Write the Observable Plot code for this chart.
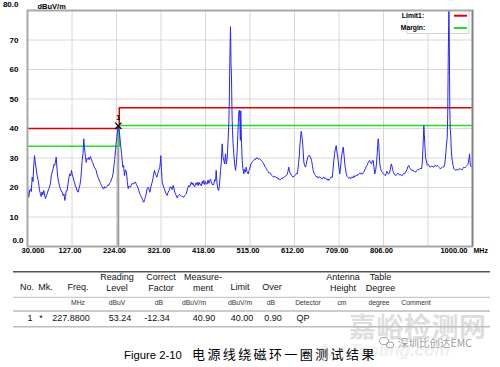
<!DOCTYPE html>
<html><head><meta charset="utf-8">
<script src="https://cdn.jsdelivr.net/npm/d3@7"></script>
<script src="https://cdn.jsdelivr.net/npm/@observablehq/plot@0.6"></script>
<style>
body{margin:0;background:#fff;width:500px;height:367px;overflow:hidden;position:relative;font-family:"Liberation Sans",Arial,sans-serif}
#chart{position:absolute;left:0;top:0}
#table{position:absolute;left:0;top:0}
</style></head><body>
<div id="table"></div><div id="chart"></div>
<script>
const freqs = [30,31,32.8,34.5,36.5,38.3,40.2,42,43.5,45.3,47,49,51,53.3,55,56.2,58,59.9,61.5,63.5,65.5,67.3,69.2,71,72.9,75.5,78,80,82,83.8,86,87.5,89.5,91,92.6,94.2,96,98,100.4,102.5,104,105.6,107.5,109.5,111.3,113,114.5,116.5,118.5,120.5,122.2,124,125.9,127.5,129.3,130.9,133,134.5,136.2,138.3,140.5,142,144,146,147.8,149.2,151,152.7,154.2,156.4,158,159.5,161.4,163,164.5,167.3,169,171,173.2,175,177,179.7,181.5,183.5,185.4,187.5,189.5,191.3,193,194.8,196.3,198,199.6,201.5,203.5,205.2,207.2,209,211,213.1,215,216.6,218.1,220,221.8,223.5,225.5,227.88,230.2,232.7,235,237.7,239.5,241.4,243.5,245.8,247.5,249.5,251.5,254.5,256.5,258.5,261.7,263.5,265.4,267.5,270.4,272.5,274.5,276.3,278.5,280.5,283.5,285.5,287,288.7,290.5,293.1,294.8,296.6,298.5,300.5,301.8,303.5,305,306.8,308.7,310.5,312,314,316,318.4,319.6,320.6,322,323.6,325.5,327.1,329,330.8,332.5,334.5,336.5,338.9,341,343.2,345.2,347.6,349.4,351.1,353.5,356.3,358.5,360.5,363.5,366.5,368.5,370.7,372.5,374.5,376.6,378.5,381.6,383.5,386.8,389,390.5,392.5,394.5,396.5,398,399.9,402,404,405.5,407.1,409,411,412.5,414.3,416,418,419.8,421.7,423.5,425.5,427.2,428.9,430.5,432.3,434.2,436.1,438,440,441.3,442.5,444,445.5,447,448.8,450.7,452.5,454.4,456,457.9,459.6,461.6,463.5,465.3,466.9,468.8,470,471,471.8,472.5,473.2,473.6,474.7,475.5,476.2,478,479.7,481.5,483.4,485.2,487.1,488.5,490,491,492.1,493,494,494.9,495.7,496.5,498,499.5,501.5,503,505,506.7,508.5,510,511.1,513,514.5,516.1,519,521,523.3,525,527,529,530.7,533,535.5,537.9,540,541.5,543.5,545.1,547,549,550.5,552.5,554.5,556,558,559.7,561.5,563,565,566.9,568.5,570,572,574.3,576,578,580,581.5,583.5,585,587,588.7,590.5,592.5,594.5,596.1,597.8,599.6,601,603.3,605,607,609.2,610.8,612.5,614.5,616,617.9,619.5,621,622.5,623.5,625,626.6,627.5,628.5,629.4,631,632.3,634,636,637.5,639,641,643,645.4,647.5,649.1,651,652.8,654.5,656,657.8,659.5,661.5,663,665,666.8,668.5,670.5,672.4,674,676,677.8,679.6,681.5,683.5,685,686.8,688.5,690,692,694.2,696,697.7,699.5,701,702.9,704.5,706.4,708,709.5,710.8,712.5,714.5,716.5,718.2,720,721.6,723.5,725,726.9,728.5,730,732,734.1,736,737.5,739.5,741.2,743,745,747,748.7,750.5,752,754,755.9,757.5,759.5,761.5,763.1,765,767,768.8,770.5,772,773.5,775.5,777.5,779.8,781.5,783.5,785,787,789,790.7,792.5,793.5,794.4,795.5,796.5,797.9,799.5,801.5,803.2,805,806.5,808.5,810.4,812,813.5,815,817.6,819.5,821,823,824.5,826,828,830,832.2,834,836,837.5,839.3,841,843,845,846.8,848.5,850,852,853.9,855.5,857,859,861.2,862.5,864,866,868.6,870.5,872,874,875.8,877.5,879,881,883,884.5,886,888.8,890.5,891.7,893,893.9,895,896,897.6,899.5,901.3,903,905,906.5,908.5,910.5,912,914,915.7,917.5,919,921,923.1,925,927,928.5,930.3,932,934,935.8,937.5,939.5,941.2,943,944.9,946,947.1,948,948.6,949.3,950,950.6,951.5,952.7,954,955.8,957.5,959.3,961,963,965,966.7,968.5,970,972,973.9,975.5,977.5,979.5,981.1,983,985,986.8,988.5,990,991,992.5,993.5,994.5,995.7,997,998,1000];
const levels = [20.1,18.5,16.7,18.8,19.5,18.6,23.5,22,27,30.8,28.5,26.3,24,22.4,20.5,19,18,16.9,18.5,17.5,19,17.5,16.2,17.2,17.9,19.2,20.1,21.5,24,25.2,26.5,27.8,27.5,29,30.3,26.5,23.5,21.8,20.1,19.2,18.8,18.4,17.3,17.8,15.6,17,19,19,21.5,23.5,24.6,24,25.8,24.3,23.5,22.4,21.5,20.2,20.1,18.8,18.4,19.5,20.7,22.5,26,29.2,31.5,36.5,33.5,30.3,28.5,29.8,29.7,30.2,29.4,30.5,29.6,28.8,28,27,26.6,25.8,24.5,23.5,22.9,22,21.3,20.7,20.2,19.6,19.5,20.3,19.8,20.1,20.4,20.9,20.7,21.5,21.8,22.9,23.5,24.8,26.9,29.5,32.5,35.5,38.2,40.9,39,34.8,31.5,26.9,27.5,24,26,25.2,22,19.6,20.5,20.1,20.8,21.5,21.2,21.8,21.8,21,20.1,19,18,17.3,16.8,16,15,16,16.7,17.8,19.5,20.1,19.5,18.4,19.8,21.2,21.8,23,24.5,25.8,24.5,24,23.5,24.8,25.8,26.9,28.5,30.8,26,21.8,20.8,20.1,19.2,18.4,17.8,17.3,18.4,19,20.2,20.1,19.3,20.7,19.6,18.4,17.5,16.5,17.2,17.6,17.3,17,16.9,16.7,17.3,17.6,17.9,19.5,20.7,20.2,21.8,21,21.6,20.7,20.2,21.4,21,21.8,20.6,21.8,21.1,21.2,20.5,22.1,21.3,22.4,21,22,21.2,21.2,22.5,21.4,22.4,22.9,22,21.2,20.8,21.2,22.6,22.3,25.8,22.5,20.5,19.2,19,21.5,25.8,28.5,34.8,30.5,29.2,28,31.4,28,30,35,41.6,50,63,70,74.5,68,62,57.4,48,42.7,35,31.4,28,25.8,28,32.5,38,44,46.1,46.1,42,36,46,40,35,29.2,26.5,24.6,26.2,25.2,26.9,25.3,24.9,24.6,25.8,26.3,27.6,28.5,28.9,29.2,29.6,29.5,30.1,30,29.6,29.8,29.4,29.2,28.8,28.4,28,27.3,26.8,26.4,25.8,25.4,24.9,25,24.8,24.2,24,23.7,23.5,23.9,23.6,23.4,23.3,22.8,23,22.7,22.6,23.1,22.9,23.4,23.3,23.7,23.8,24.2,24.4,25.5,26.9,25.5,24.6,24.2,23.8,23.5,23.9,24,24.3,24.8,24.6,26,28.5,31,33.7,36.5,39,38,37,35.9,32,28.6,27.5,26.9,27.8,29,30.3,30.8,30.8,30,29.2,27.5,25.8,25,24.5,24,23.6,23.8,23.2,23.3,23.7,23.5,23,22.9,23.4,23.5,23,23.3,22.8,22.5,22.9,22.4,22.8,23,23.6,23.3,26,29.2,31.5,33,34.2,32,30.3,28,26,24.6,27,30.3,32.5,33.7,31,28,26,24.5,23.7,23.4,23.2,23.5,22.9,23.4,23.6,23.2,24,23.6,23.8,24.3,24,24.5,24.4,24.8,24.6,25,24.5,24.9,25.2,25.9,26.5,27.3,27.5,28.2,28.8,29.2,28.5,28,29,29.2,27,24.6,26,28,32,34.5,36.5,35,32,28,26.5,25.5,25.2,24.8,24.5,24.3,24,24.8,25.5,24.8,24.6,25.2,26.3,28,27.2,26,25,24.5,24,24.2,24.5,24.9,24.6,24.2,24.4,24,24,24.5,24.8,24.6,25.2,25.6,26,27,27.5,26.8,26.5,26,25.8,25.9,25.5,25.4,25.2,25.6,25.8,26.2,26,26.2,26.5,26.3,28,32.5,37,41,38,34.8,30.3,29,27.5,27.8,27.5,27,26.9,27.3,27.2,27,26.9,27.4,27.5,27.1,27.5,27.2,26.8,26.6,26.3,26.7,26.8,27.1,26.9,28,30.3,34,37,45,63,75,82,72,58,46,40,37,32,29.2,27.5,26.3,26.2,25.8,26.1,25.8,26.2,26,26.4,26.3,26.1,26,26.5,26.9,26.6,27,27.2,27.5,27.8,28.5,30,31.4,29,27.5,27,27.2,26.9];

const limitFreqs = [30, 230, 1000];
const limitLevels = [40, 47, 47];
const marginLevels = [34, 41, 41];
const markerFreq = 227.88, markerLevel = 40.9, markerLabel = "1";

const xGrid = [30,127,224,321,418,515,612,709,806,903,1000];
const yGrid = [10,20,30,40,50,60,70];
const xTicks = [30,127,224,321,418,515,612,709,806,1000];
const xTickLabels = ["30.000","127.00","224.00","321.00","418.00","515.00","612.00","709.00","806.00","1000.00"];
const yTicks = [80,70,60,50,40,30,20,10,0];
const yTickLabels = ["80.0","70","60","50","40","30","20","10","0.0"];
const yUnit = "dBuV/m", xUnit = "MHz";
const legendNames = ["Limit1:", "Margin:"];
const legendColors = ["#e00000", "#1ee01e"];

const headerLines = [["No."],["Mk."],["Freq."],["Reading","Level"],["Correct","Factor"],["Measure-","ment"],["Limit"],["Over"],[],["Antenna","Height"],["Table","Degree"],[]];
const unitTexts = ["","","MHz","dBuV","dB","dBuV/m","dBuV/m","dB","Detector","cm","degree","Comment"];
const rowTexts = ["1","*","227.8800","53.24","-12.34","40.90","40.00","0.90","QP","","",""];
const captionLatin = "Figure 2-10";
const captionCJK = "电源线绕磁环一圈测试结果";
const watermarkBig = "嘉峪检测网", watermarkSmall = "深圳比创达EMC", watermarkUrl = "AnyTesting.com";

const FF = "'Liberation Sans', Arial, sans-serif";
const data = freqs.map((f, i) => ({f, v: levels[i]}));
const limit = limitFreqs.map((f, i) => ({f, v: limitLevels[i]}));
const margin = limitFreqs.map((f, i) => ({f, v: marginLevels[i]}));
const marker = [{f: markerFreq, v: markerLevel, n: markerLabel}];
const n = yTicks.length;
const TRACE = "#2525ff";

const chart = Plot.plot({
  width: 500, height: 262,
  marginTop: 10, marginRight: 28, marginBottom: 16, marginLeft: 27,
  x: {domain: [30, 1000], axis: null},
  y: {domain: [0, 80], axis: null, clamp: true},
  style: {fontFamily: FF, background: "transparent", color: "#000", overflow: "visible"},
  marks: [
    Plot.ruleX(xGrid, {x: d => d, stroke: "#d8d8d8", strokeWidth: 1}),
    Plot.ruleY(yGrid, {y: d => d, stroke: "#d8d8d8", strokeWidth: 1}),
    Plot.ruleX(marker, {x: "f", y1: 0, y2: "v", stroke: "#9a9a9a", strokeWidth: 2}),
    Plot.line(limit, {x: "f", y: "v", curve: "step-after", stroke: legendColors[0], strokeWidth: 1.5}),
    Plot.line(margin, {x: "f", y: "v", curve: "step-after", stroke: legendColors[1], strokeWidth: 1.5}),
    Plot.line(data, {x: "f", y: "v", stroke: TRACE, strokeWidth: 1}),
    Plot.dot(marker, {x: "f", y: "v", symbol: "times", r: 3, stroke: "#000", strokeWidth: 1.2}),
    Plot.text(marker, {x: "f", y: "v", text: "n", dy: -8, fontSize: 7, fontWeight: "bold"}),
    Plot.frame({stroke: "#a8a8a8", strokeWidth: 2}),
    Plot.ruleX([1000], {stroke: "#808080", strokeWidth: 1.5}),
    Plot.text(yTicks, {filter: (d, i) => i > 0 && i < n - 1, y: d => d, text: (d, i) => yTickLabels[i], frameAnchor: "left", dx: -9, textAnchor: "end", fontSize: 8, fontWeight: "bold"}),
    Plot.text(yTicks, {filter: (d, i) => i === 0, y: d => d, text: (d, i) => yTickLabels[i], frameAnchor: "left", dx: -9, dy: -6.5, textAnchor: "end", fontSize: 8, fontWeight: "bold"}),
    Plot.text(yTicks, {filter: (d, i) => i === n - 1, y: d => d, text: (d, i) => yTickLabels[i], frameAnchor: "left", dx: -4, dy: -6, textAnchor: "end", fontSize: 8, fontWeight: "bold"}),
    Plot.text([yUnit], {frameAnchor: "top-left", dx: 10, dy: -6.5, textAnchor: "start", fontSize: 7.5, fontWeight: "bold"}),
    Plot.text(xTicks, {filter: (d, i) => i > 0 && i < xTicks.length - 1, x: d => d, text: (d, i) => xTickLabels[i], frameAnchor: "bottom", dx: -2, dy: 6, fontSize: 7.5, fontWeight: "bold"}),
    Plot.text(xTicks, {filter: (d, i) => i === 0, x: d => d, text: (d, i) => xTickLabels[i], frameAnchor: "bottom", dx: -6, dy: 6, textAnchor: "start", fontSize: 7.5, fontWeight: "bold"}),
    Plot.text(xTicks, {filter: (d, i) => i === xTicks.length - 1, x: d => d, text: (d, i) => xTickLabels[i], frameAnchor: "bottom", dx: -5, dy: 6, textAnchor: "end", fontSize: 7.5, fontWeight: "bold"}),
    Plot.text([xUnit], {frameAnchor: "bottom-right", dx: 1, dy: 6, textAnchor: "start", fontSize: 7, fontWeight: "bold"})
  ]
});
document.getElementById("chart").appendChild(chart);

// legend box, placed beneath the trace
let traceNode = null;
chart.querySelectorAll(":scope > g").forEach(g => { if (g.getAttribute("stroke") === TRACE) traceNode = g; });
const lg = d3.create("svg:g").attr("font-family", FF).attr("font-size", 6.8).attr("font-weight", "bold");
lg.append("rect").attr("x", 407).attr("y", 10.5).attr("width", 62).attr("height", 23).attr("fill", "#fff").attr("stroke", "#d4d4d4");
legendNames.forEach((name, i) => {
  const y = 15.7 + i * 12.3;
  lg.append("text").attr("x", 413).attr("y", y).attr("dy", "0.35em").text(name);
  lg.append("line").attr("x1", 454).attr("x2", 467).attr("y1", y).attr("y2", y).attr("stroke", legendColors[i]).attr("stroke-width", 2);
});
if (traceNode) chart.insertBefore(lg.node(), traceNode); else chart.appendChild(lg.node());

// table, caption, watermark
const headX = [27, 45.5, 78, 117, 161, 203, 240, 272, 308, 343, 380.5, 416];
const unitX = [27, 45.5, 78, 117, 159, 194, 240, 271, 308, 342, 379, 416];
const rowX = [30, 41, 71, 120, 157, 204, 242, 273, 303, 342, 379, 416];
const ts = d3.create("svg").attr("width", 500).attr("height", 367).attr("font-family", FF);
ts.append("text").attr("x", 318).attr("y", 356).attr("font-size", 17).attr("font-style", "italic").attr("font-weight", "bold").attr("fill", "#efefef").text(watermarkUrl);
ts.append("text").attr("x", 349).attr("y", 337).attr("font-size", 27).attr("font-weight", "bold").attr("font-family", "'Noto Sans CJK SC', sans-serif").attr("fill", "#dedede").attr("letter-spacing", 0.5).text(watermarkBig);
[[271.7, "#555", 1.5], [297.3, "#bdbdbd", 1], [311, "#9a9a9a", 1], [326.7, "#bdbdbd", 1.5]].forEach(([y, c, w]) =>
  ts.append("line").attr("x1", 13).attr("x2", 490).attr("y1", y).attr("y2", y).attr("stroke", c).attr("stroke-width", w));
headerLines.forEach((lines, i) => {
  lines.forEach((t, j) => {
    const y = lines.length === 1 ? 287 : 277 + j * 11;
    ts.append("text").attr("x", headX[i]).attr("y", y).attr("dy", "0.35em").attr("text-anchor", "middle").attr("font-size", 9).attr("fill", "#111").text(t);
  });
});
unitTexts.forEach((t, i) => {
  if (!t) return;
  ts.append("text").attr("x", unitX[i]).attr("y", 302.5).attr("dy", "0.35em").attr("text-anchor", "middle").attr("font-size", 6.8).attr("fill", "#333").text(t);
});
rowTexts.forEach((t, i) => {
  if (!t) return;
  ts.append("text").attr("x", rowX[i]).attr("y", 317.5).attr("dy", "0.35em").attr("text-anchor", "middle").attr("font-size", 9).attr("fill", "#111").text(t);
});
const wc = ts.append("g").attr("stroke", "#9a9a9a").attr("fill", "none").attr("stroke-width", 0.9);
wc.append("ellipse").attr("cx", 384).attr("cy", 341).attr("rx", 4.5).attr("ry", 3.6);
wc.append("ellipse").attr("cx", 390).attr("cy", 345).attr("rx", 3.8).attr("ry", 3);
ts.append("text").attr("x", 398).attr("y", 343).attr("dy", "0.35em").attr("font-size", 10.5).attr("font-family", "'Noto Sans CJK SC', sans-serif").attr("fill", "#9c9c9c").text(watermarkSmall);
ts.append("text").attr("x", 124).attr("y", 359).attr("font-size", 11.3).attr("fill", "#000").text(captionLatin);
ts.append("text").attr("x", 192).attr("y", 359).attr("font-size", 13).attr("letter-spacing", 2.4).attr("font-family", "'Noto Sans CJK SC', sans-serif").attr("fill", "#000").text(captionCJK);
document.getElementById("table").appendChild(ts.node());
</script></body></html>
